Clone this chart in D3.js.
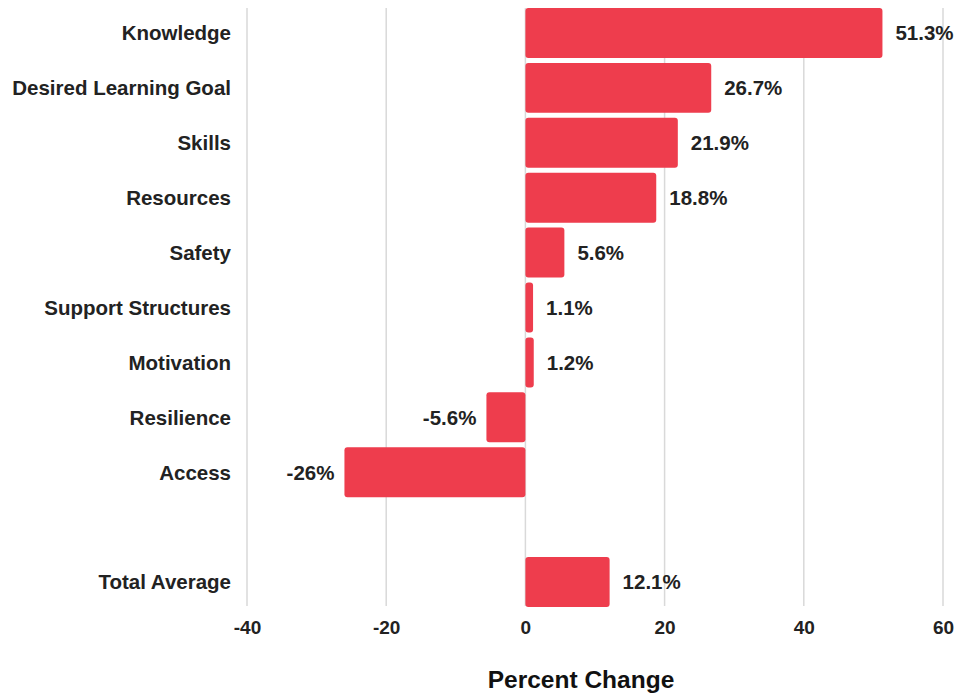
<!DOCTYPE html>
<meta charset="utf-8">
<style type="text/css">
    body { margin: 0; background: white; }
    svg text { font-family: "Liberation Sans", Arial, sans-serif; font-weight: bold; fill: #222; }
    svg .bar { fill: #ee3d4d; }
    svg .grid line { stroke: #d9d9d9; stroke-width: 1.5; }
</style>
<body>
<script src="https://cdn.jsdelivr.net/npm/d3@7"></script>
<script>
    // data
    var categories = ["Knowledge", "Desired Learning Goal", "Skills", "Resources", "Safety",
        "Support Structures", "Motivation", "Resilience", "Access", "", "Total Average"];
    var values = [51.3, 26.7, 21.9, 18.8, 5.6, 1.1, 1.2, -5.6, -26, null, 12.1];
    var valueLabels = ["51.3%", "26.7%", "21.9%", "18.8%", "5.6%", "1.1%", "1.2%", "-5.6%", "-26%", "", "12.1%"];
    var xTicks = [-40, -20, 0, 20, 40, 60];

    var w = 957, h = 696;
    var plotLeft = 247, plotRight = 943, plotTop = 8, plotBottom = 607;

    var svg = d3.select("body").append("svg")
        .attr("width", w)
        .attr("height", h);

    var x = d3.scaleLinear().domain([-40, 60]).range([plotLeft, plotRight]);
    var y = d3.scaleBand()
        .domain(categories.map(function(d, i) { return i; }))
        .range([plotTop, plotBottom])
        .paddingInner(0.09)
        .paddingOuter(0);

    // vertical grid lines
    svg.append("g").attr("class", "grid")
        .selectAll("line")
        .data(xTicks)
        .enter().append("line")
        .attr("x1", function(d) { return x(d); })
        .attr("x2", function(d) { return x(d); })
        .attr("y1", plotTop)
        .attr("y2", plotBottom - 1);

    var rows = categories.map(function(c, i) { return {cat: c, v: values[i], label: valueLabels[i], i: i}; });
    var barRows = rows.filter(function(d) { return d.v !== null; });

    // bars
    svg.selectAll("rect.bar")
        .data(barRows)
        .enter().append("rect")
        .attr("class", "bar")
        .attr("x", function(d) { return x(Math.min(0, d.v)); })
        .attr("y", function(d) { return y(d.i); })
        .attr("width", function(d) { return Math.abs(x(d.v) - x(0)); })
        .attr("height", y.bandwidth())
        .attr("rx", 3);

    // value labels
    svg.selectAll("text.val")
        .data(barRows)
        .enter().append("text")
        .attr("class", "val")
        .attr("x", function(d) { return d.v >= 0 ? x(d.v) + 13 : x(d.v) - 10; })
        .attr("y", function(d) { return y(d.i) + y.bandwidth() / 2; })
        .attr("dy", "0.36em")
        .attr("text-anchor", function(d) { return d.v >= 0 ? "start" : "end"; })
        .style("font-size", "20.5px")
        .text(function(d) { return d.label; });

    // category labels
    svg.selectAll("text.cat")
        .data(rows)
        .enter().append("text")
        .attr("class", "cat")
        .attr("x", 231)
        .attr("y", function(d) { return y(d.i) + y.bandwidth() / 2; })
        .attr("dy", "0.36em")
        .attr("text-anchor", "end")
        .style("font-size", "20.5px")
        .text(function(d) { return d.cat; });

    // x axis
    var xAxis = d3.axisBottom(x).tickValues(xTicks).tickSize(0).tickPadding(0)
        .tickFormat(function(d) { return String(d); });
    var ax = svg.append("g")
        .attr("transform", "translate(0," + 620 + ")")
        .call(xAxis);
    ax.select(".domain").remove();
    ax.selectAll("text")
        .attr("dy", "0.71em")
        .style("font-size", "19px")
        .style("font-family", "\"Liberation Sans\", Arial, sans-serif")
        .style("fill", "#222");

    svg.append("text")
        .attr("x", 581)
        .attr("y", 688)
        .attr("text-anchor", "middle")
        .style("font-size", "24.5px")
        .style("fill", "#111")
        .text("Percent Change");
</script>
</body>
